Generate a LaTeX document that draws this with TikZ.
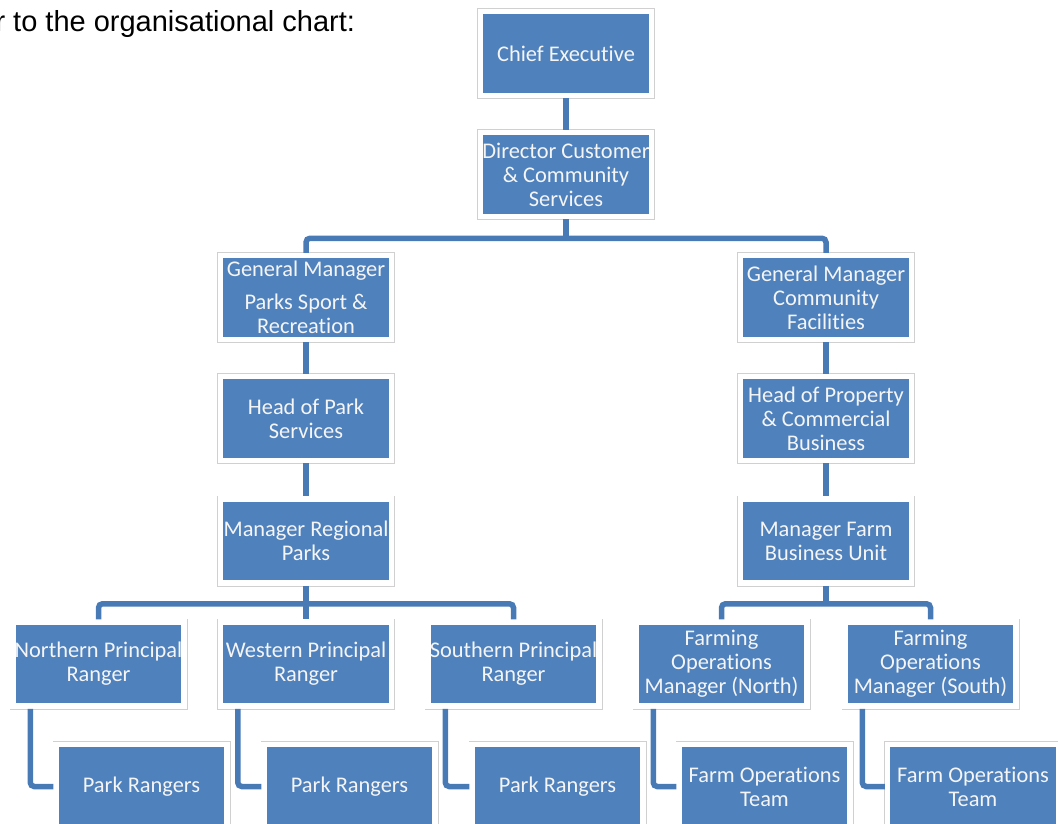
\documentclass[tikz,border=0pt]{standalone}
\usepackage{fontspec}
\setmainfont{Liberation Sans}
\newfontfamily\boxfont[Ligatures=NoCommon]{Carlito}
\definecolor{boxBlue}{RGB}{79,129,189}
\definecolor{linkBlue}{RGB}{72,122,182}
\definecolor{frameGray}{RGB}{208,208,208}
\begin{document}
\begin{tikzpicture}[x=1pt, y=-1pt,
	orgBox/.style={rectangle, fill=boxBlue, draw=white, line width=5.5pt, preaction={draw=frameGray, line width=7pt}, minimum width=171pt, minimum height=84pt, inner sep=0pt, align=center, text=white!96!black, font=\boxfont\fontsize{22.4}{24}\selectfont},
	orgLink/.style={line width=5.5pt, color=linkBlue, rounded corners=4pt}]
		\useasboundingbox (0,0) rectangle (1058,823);

		\node[anchor=base west, font=\fontsize{29}{34}\selectfont](intro) at (-8,31){r to the organisational chart:};

		\node[orgBox](chiefExec) at (566,53.5){Chief Executive};
		\node[orgBox](director) at (566,174.5){Director Customer\\\& Community\\Services};

		\node[orgBox](gmParks) at (306,297.5){General Manager\\[9pt]Parks Sport \&\\Recreation};
		\node[orgBox](headParks) at (306,418.5){Head of Park\\Services};
		\node[orgBox](mgrRegional) at (306,541){Manager Regional\\Parks};

		\node[orgBox](gmCommunity) at (826,297.5){General Manager\\Community\\Facilities};
		\node[orgBox](headProperty) at (826,418.5){Head of Property\\\& Commercial\\Business};
		\node[orgBox](mgrFarm) at (826,541){Manager Farm\\Business Unit};

		\node[orgBox](northRanger) at (98.5,664){Northern Principal\\Ranger};
		\node[orgBox](westRanger) at (306,664){Western Principal\\Ranger};
		\node[orgBox](southRanger) at (513.5,664){Southern Principal\\Ranger};
		\node[orgBox](farmNorth) at (721.5,664){Farming\\Operations\\Manager (North)};
		\node[orgBox](farmSouth) at (930.5,664){Farming\\Operations\\Manager (South)};

		\node[orgBox](rangers1) at (141.5,786.5){Park Rangers};
		\node[orgBox](rangers2) at (349.5,786.5){Park Rangers};
		\node[orgBox](rangers3) at (557.5,786.5){Park Rangers};
		\node[orgBox](farmTeam1) at (764.5,786.5){Farm Operations\\Team};
		\node[orgBox](farmTeam2) at (973,786.5){Farm Operations\\Team};

		\draw[orgLink] (chiefExec.south) -- (director.north);
		\draw[orgLink] (director.south) -- ++(0,20);
		\draw[orgLink] (gmParks.north) -- ++(0,-14.5) -| (gmCommunity.north);

		\draw[orgLink] (gmParks.south) -- (headParks.north);
		\draw[orgLink] (headParks.south) -- (mgrRegional.north);
		\draw[orgLink] (gmCommunity.south) -- (headProperty.north);
		\draw[orgLink] (headProperty.south) -- (mgrFarm.north);

		\draw[orgLink] (mgrRegional.south) -- (westRanger.north);
		\draw[orgLink] (northRanger.north) -- ++(0,-15.5) -| (southRanger.north);
		\draw[orgLink] (mgrFarm.south) -- ++(0,18);
		\draw[orgLink] (farmNorth.north) -- ++(0,-15.5) -| (farmSouth.north);

		\draw[orgLink] ([xshift=20pt]northRanger.south west) |- (rangers1.west);
		\draw[orgLink] ([xshift=20pt]westRanger.south west) |- (rangers2.west);
		\draw[orgLink] ([xshift=20pt]southRanger.south west) |- (rangers3.west);
		\draw[orgLink] ([xshift=20pt]farmNorth.south west) |- (farmTeam1.west);
		\draw[orgLink] ([xshift=20pt]farmSouth.south west) |- (farmTeam2.west);

	\end{tikzpicture}
\end{document}
